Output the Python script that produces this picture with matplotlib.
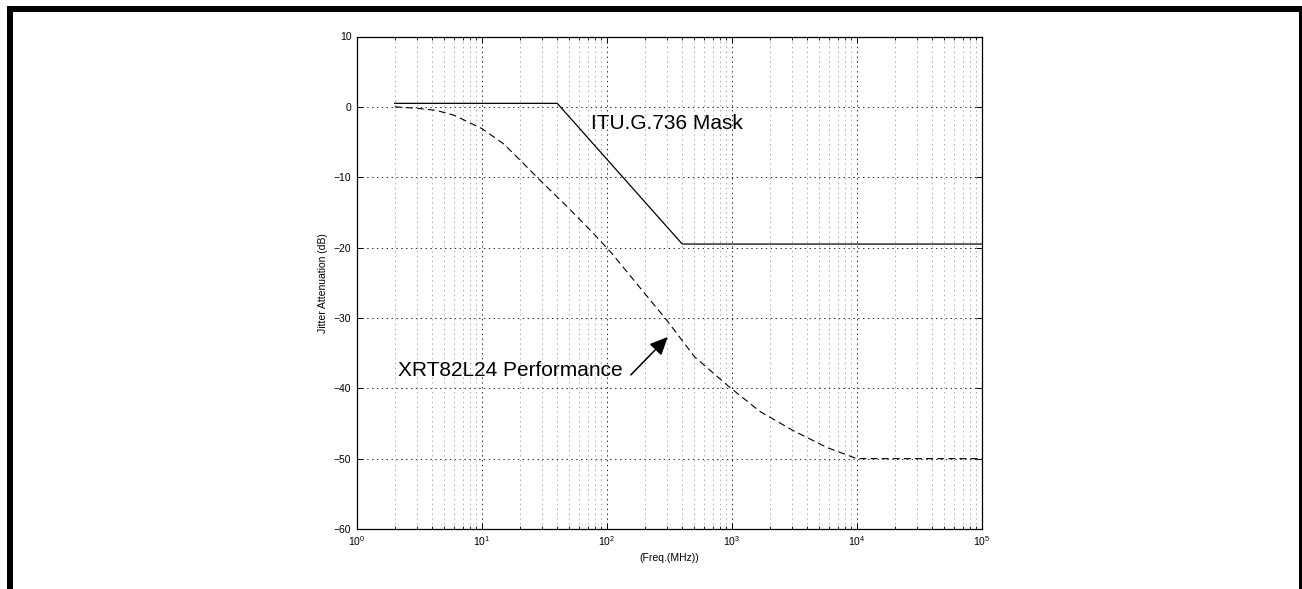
import matplotlib
matplotlib.use('Agg')
import matplotlib.pyplot as plt
from matplotlib.patches import Rectangle
from matplotlib.ticker import LogLocator, NullFormatter
import numpy as np

plt.rcParams['font.family'] = ['Liberation Sans', 'DejaVu Sans']
plt.rcParams['mathtext.fontset'] = 'custom'
plt.rcParams['mathtext.rm'] = 'Liberation Sans'
plt.rcParams['lines.scale_dashes'] = False

# ITU mask corner points
mask_freq = [2, 40, 400, 1e5]
mask_db = [0.5, 0.5, -19.5, -19.5]

perf_freq = [2, 3, 4.3, 6, 10, 15, 20, 29, 47.5, 78, 109, 200, 300, 500,
             935, 1675, 3080, 5720, 9300, 10000, 1e5]
perf_db = [0, -0.2, -0.5, -1.2, -3.1, -5.3, -7.5, -10.4, -14.1, -18.0, -20.8,
           -26.5, -30.3, -35.5, -39.7, -43.3, -46.0, -48.4, -49.8, -50.0, -50.0]

W, H = 1302, 589
fig = plt.figure(figsize=(W / 100, H / 100), dpi=100)

# black frame around the page (top, left, right)
fig.add_artist(Rectangle((7 / W, 1 - 12 / H), (W - 7) / W, 6 / H,
                         transform=fig.transFigure, color='black', lw=0))
fig.add_artist(Rectangle((7 / W, 0), 6 / W, 1 - 6 / H,
                         transform=fig.transFigure, color='black', lw=0))
fig.add_artist(Rectangle((1299 / W, 0), 4 / W, 1 - 6 / H,
                         transform=fig.transFigure, color='black', lw=0))

ax = fig.add_axes([357 / W, 1 - 529 / H, 625 / W, 492.5 / H])

ax.semilogx(mask_freq, mask_db, color='black', lw=0.9)
ax.semilogx(perf_freq, perf_db, color='black', lw=0.8, dashes=(5, 3))

ax.set_xlim(1, 1e5)
ax.set_ylim(-60, 10)
ax.set_yticks(np.arange(-60, 11, 10))
ax.xaxis.set_minor_locator(LogLocator(base=10, subs=np.arange(2, 10), numticks=20))
ax.xaxis.set_minor_formatter(NullFormatter())

ax.grid(True, which='major', linestyle=(0, (1, 2.5)), color='black', lw=0.6)
ax.grid(True, which='minor', axis='x', linestyle=(0, (1, 2.5)), color='#999999', lw=0.6)

ax.tick_params(which='both', direction='in', top=True, right=True, labelsize=7.5, pad=4)
ax.tick_params(which='major', length=4, width=0.7)
ax.tick_params(which='minor', length=2, width=0.6)
for s in ax.spines.values():
    s.set_linewidth(0.9)

ax.set_xlabel('(Freq.(MHz))', fontsize=7.5, labelpad=3)
ax.set_ylabel('Jitter Attenuation (dB)', fontsize=7.5, labelpad=4)

ax.text(74.5, -2.3, 'ITU.G.736 Mask', fontsize=15, va='center', ha='left')
ax.text(2.13, -37.5, 'XRT82L24 Performance', fontsize=15, ha='left', va='center')
ax.annotate('', xy=(307, -32.7), xytext=(155, -38.1),
            arrowprops=dict(arrowstyle='-|>,head_length=1.1,head_width=0.5',
                            color='black', lw=1.1, shrinkA=0, shrinkB=0))

fig.savefig('out.png', dpi=100)
